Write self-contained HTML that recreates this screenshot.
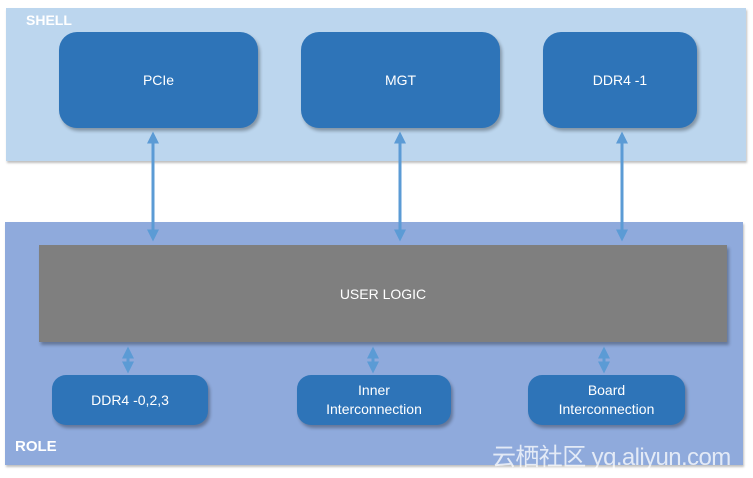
<!DOCTYPE html>
<html><head><style>
body{margin:0;width:753px;height:478px;background:#fff;position:relative;overflow:hidden;font-family:"Liberation Sans","Noto Sans CJK SC",sans-serif}
.a{position:absolute}
.box{position:absolute;background:#2e74b8;color:#fff;border-radius:18px;display:flex;align-items:center;justify-content:center;text-align:center;font-size:14px;box-shadow:2px 3px 3px rgba(0,0,0,.3)}
.sm{border-radius:14px;font-size:14px;line-height:19px}
</style></head><body>
<div class="a" style="left:6px;top:8px;width:740px;height:153px;background:#bcd6ee;box-shadow:1px 2px 2px rgba(0,0,0,.25)"></div>
<div class="a" style="left:26px;top:12px;color:#fff;font-weight:bold;font-size:14px">SHELL</div>
<div class="a" style="left:5px;top:222px;width:738px;height:243px;background:#8faadc;box-shadow:1px 2px 2px rgba(0,0,0,.25)"></div>
<div class="a" style="left:15px;top:438px;color:#fff;font-weight:bold;font-size:15px">ROLE</div>
<div class="box" style="left:59px;top:32px;width:199px;height:96px">PCIe</div>
<div class="box" style="left:301px;top:32px;width:199px;height:96px">MGT</div>
<div class="box" style="left:543px;top:32px;width:154px;height:96px">DDR4 -1</div>
<div class="a" style="left:39px;top:245px;width:688px;height:97px;background:#7f7f7f;color:#fff;display:flex;align-items:center;justify-content:center;font-size:14px;box-shadow:2px 3px 3px rgba(0,0,0,.3)">USER LOGIC</div>
<div class="box sm" style="left:52px;top:375px;width:156px;height:50px">DDR4 -0,2,3</div>
<div class="box sm" style="left:297px;top:375px;width:154px;height:50px">Inner<br>Interconnection</div>
<div class="box sm" style="left:528px;top:375px;width:157px;height:50px">Board<br>Interconnection</div>
<svg class="a" style="left:0;top:0" width="753" height="478">
<defs><marker id="m" markerWidth="4" markerHeight="4" refX="2.5" refY="2" orient="auto-start-reverse"><path d="M0,0L4,2L0,4z" fill="#5b9bd5"/></marker></defs>
<g stroke="#5b9bd5" stroke-width="3" marker-start="url(#m)" marker-end="url(#m)">
<line x1="153" y1="136" x2="153" y2="237"/>
<line x1="400" y1="136" x2="400" y2="237"/>
<line x1="622" y1="136" x2="622" y2="237"/>
<line x1="128" y1="351" x2="128" y2="369"/>
<line x1="373" y1="351" x2="373" y2="369"/>
<line x1="604" y1="351" x2="604" y2="369"/>
</g></svg>
<div class="a" style="left:492px;top:437px;color:rgba(255,255,255,.75);font-size:24px;letter-spacing:-0.6px">云栖社区 yq.aliyun.com</div>
</body></html>
